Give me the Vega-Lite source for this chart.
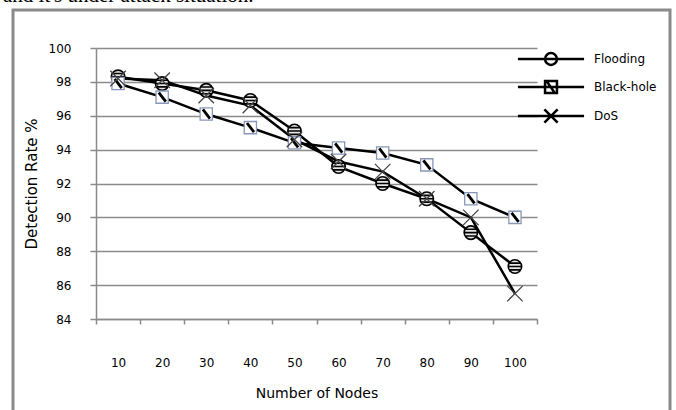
{
  "$schema": "https://vega.github.io/schema/vega-lite/v6.json",
  "width": 657,
  "height": 420,
  "autosize": {"type": "none"},
  "padding": {"left": 13, "top": 10, "right": 6, "bottom": 0},
  "background": "white",
  "title": {
    "text": "and it's under attack situation.",
    "anchor": "start",
    "frame": "group",
    "font": "Liberation Serif",
    "fontSize": 21,
    "fontWeight": "normal",
    "color": "black",
    "baseline": "alphabetic",
    "offset": 1,
    "dx": -10,
    "dy": 14
  },
  "data": {
    "values": [
      {"n": 10, "series": "Flooding", "rate": 98.3},
      {"n": 20, "series": "Flooding", "rate": 97.9},
      {"n": 30, "series": "Flooding", "rate": 97.5},
      {"n": 40, "series": "Flooding", "rate": 96.9},
      {"n": 50, "series": "Flooding", "rate": 95.1},
      {"n": 60, "series": "Flooding", "rate": 93.0},
      {"n": 70, "series": "Flooding", "rate": 92.0},
      {"n": 80, "series": "Flooding", "rate": 91.1},
      {"n": 90, "series": "Flooding", "rate": 89.1},
      {"n": 100, "series": "Flooding", "rate": 87.1},
      {"n": 10, "series": "Black-hole", "rate": 97.9},
      {"n": 20, "series": "Black-hole", "rate": 97.1},
      {"n": 30, "series": "Black-hole", "rate": 96.1},
      {"n": 40, "series": "Black-hole", "rate": 95.3},
      {"n": 50, "series": "Black-hole", "rate": 94.4},
      {"n": 60, "series": "Black-hole", "rate": 94.1},
      {"n": 70, "series": "Black-hole", "rate": 93.8},
      {"n": 80, "series": "Black-hole", "rate": 93.1},
      {"n": 90, "series": "Black-hole", "rate": 91.1},
      {"n": 100, "series": "Black-hole", "rate": 90.0},
      {"n": 10, "series": "DoS", "rate": 98.2},
      {"n": 20, "series": "DoS", "rate": 98.1},
      {"n": 30, "series": "DoS", "rate": 97.2},
      {"n": 40, "series": "DoS", "rate": 96.6},
      {"n": 50, "series": "DoS", "rate": 94.6},
      {"n": 60, "series": "DoS", "rate": 93.3},
      {"n": 70, "series": "DoS", "rate": 92.7},
      {"n": 80, "series": "DoS", "rate": 91.1},
      {"n": 90, "series": "DoS", "rate": 90.0},
      {"n": 100, "series": "DoS", "rate": 85.5}
    ]
  },
  "encoding": {
    "x": {
      "field": "n",
      "type": "ordinal",
      "scale": {"type": "band", "domain": [10, 20, 30, 40, 50, 60, 70, 80, 90, 100], "range": [83, 524], "paddingInner": 0, "paddingOuter": 0},
      "axis": {
        "orient": "bottom",
        "offset": -111,
        "title": "Number of Nodes",
        "labelAngle": 0,
        "tickBand": "extent",
        "tickSize": 5,
        "tickColor": "#8a8a8a",
        "tickWidth": 1.5,
        "domainColor": "#8a8a8a",
        "domainWidth": 1.5,
        "grid": false,
        "labelPadding": 33,
        "titlePadding": 18
      }
    },
    "y": {
      "field": "rate",
      "type": "quantitative",
      "scale": {"domain": [84, 100], "range": [309, 38], "nice": false, "zero": false},
      "axis": {
        "orient": "left",
        "offset": -83,
        "title": "Detection Rate %",
        "titleFontSize": 15,
        "values": [84, 86, 88, 90, 92, 94, 96, 98, 100],
        "tickSize": 6,
        "tickColor": "#8a8a8a",
        "tickWidth": 1.5,
        "domainColor": "#8a8a8a",
        "domainWidth": 1.5,
        "grid": true,
        "gridColor": "#8a8a8a",
        "gridWidth": 1.5,
        "labelPadding": 19,
        "titlePadding": 9
      }
    }
  },
  "layer": [
    {
      "mark": {"type": "line", "color": "black", "strokeWidth": 2.5},
      "encoding": {"detail": {"field": "series", "type": "nominal"}}
    },
    {
      "transform": [{"filter": "datum.series === 'Flooding'"}],
      "mark": {"type": "point", "shape": "M-1,0A1,1 0 1,1 1,0A1,1 0 1,1 -1,0M-0.87,-0.5L0.87,-0.5M-1,0L1,0M-0.87,0.5L0.87,0.5", "size": 180, "filled": true, "fill": "#e6e6e6", "stroke": "black", "strokeWidth": 1.6, "opacity": 1}
    },
    {
      "transform": [{"filter": "datum.series === 'Black-hole'"}],
      "mark": {"type": "point", "shape": "M-1,-1L1,-1L1,1L-1,1Z", "size": 150, "filled": true, "fill": "white", "stroke": "#8896b8", "strokeWidth": 1.3, "opacity": 1}
    },
    {
      "transform": [{"filter": "datum.series === 'Black-hole'"}],
      "mark": {"type": "point", "shape": "M-0.55,-0.75L0.6,0.75", "size": 150, "filled": false, "stroke": "black", "strokeWidth": 2.8, "opacity": 1}
    },
    {
      "transform": [{"filter": "datum.series === 'DoS'"}],
      "mark": {"type": "point", "shape": "M-1,-1L1,1M-1,1L1,-1", "size": 240, "filled": false, "stroke": "#444444", "strokeWidth": 1.3, "opacity": 1}
    },
    {
      "data": {"values": []},
      "mark": {"type": "point", "size": 175, "filled": false, "stroke": "black", "strokeWidth": 2.5, "opacity": 1},
      "encoding": {
        "shape": {
          "field": "series",
          "type": "nominal",
          "scale": {
            "domain": ["Flooding", "Black-hole", "DoS"],
            "range": [
              "M-5,0L5,0M-0.9,0A0.9,0.9 0 1,1 0.9,0A0.9,0.9 0 1,1 -0.9,0",
              "M-5,0L5,0M-0.9,-0.9L0.9,-0.9L0.9,0.9L-0.9,0.9ZM-0.6,-0.8L0.5,0.8",
              "M-5,0L5,0M-1,-1L1,1M-1,1L1,-1"
            ]
          },
          "legend": {
            "orient": "none",
            "legendX": 530,
            "legendY": 41,
            "title": null,
            "padding": 0,
            "symbolSize": 175,
            "symbolStrokeWidth": 2.5,
            "symbolStrokeColor": "black",
            "symbolFillColor": "white",
            "symbolOpacity": 1,
            "labelOffset": 35,
            "labelFont": "DejaVu Sans",
            "labelFontSize": 12,
            "labelColor": "black",
            "rowPadding": 6,
            "encode": {
              "symbols": {
                "update": {
                  "fill": {"value": "white"},
                  "stroke": {"value": "black"},
                  "strokeWidth": {"value": 2.5},
                  "opacity": {"value": 1}
                }
              }
            }
          }
        }
      }
    }
  ],
  "config": {
    "view": {"stroke": "#8a8a8a", "strokeWidth": 3},
    "axis": {
      "labelFont": "DejaVu Sans",
      "labelFontSize": 12,
      "labelColor": "black",
      "titleFont": "DejaVu Sans",
      "titleFontSize": 14,
      "titleFontWeight": "normal",
      "titleColor": "black"
    }
  }
}
